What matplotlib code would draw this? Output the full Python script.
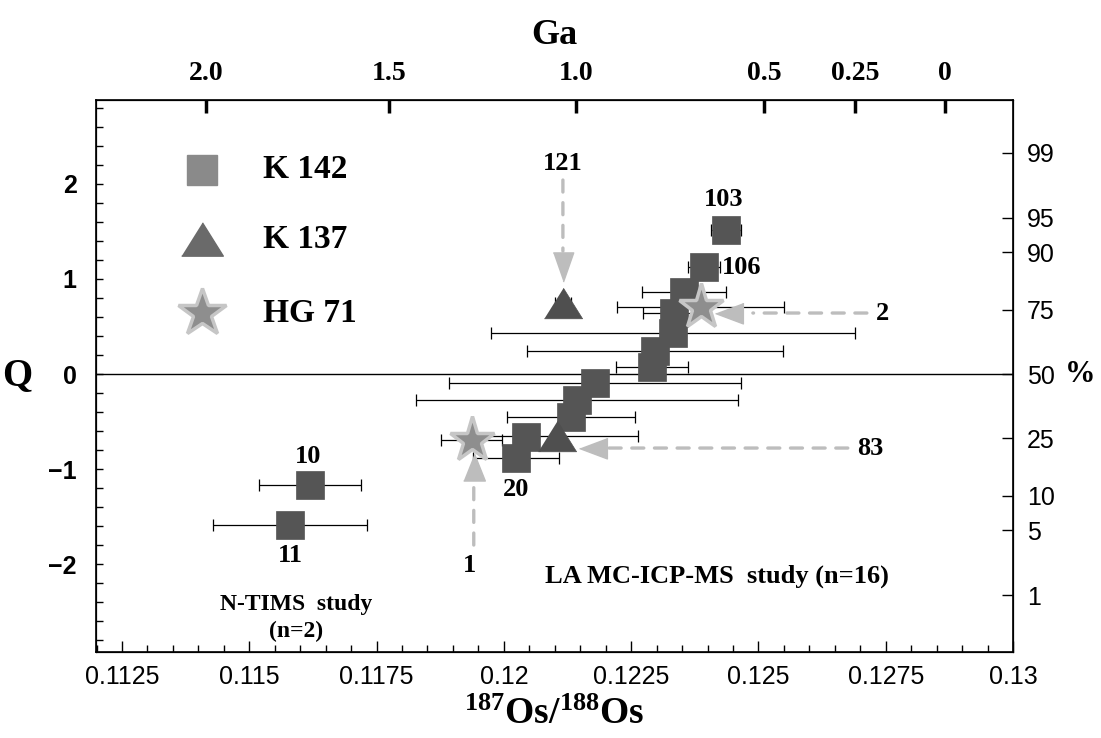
import matplotlib
matplotlib.use("Agg")
import matplotlib.pyplot as plt
import matplotlib.transforms as mtransforms
from statistics import NormalDist
import numpy as np

plt.rcParams["mathtext.fontset"] = "custom"
plt.rcParams["mathtext.rm"] = "Liberation Serif:bold"
plt.rcParams["mathtext.bf"] = "Liberation Serif:bold"
plt.rcParams["mathtext.it"] = "Liberation Serif:bold:italic"

# ---------------- data ----------------
# K 142 (LA MC-ICP-MS), sorted by Q
k142_os = [0.12436, 0.12393, 0.12354, 0.12334, 0.12332, 0.12297, 0.12291,
           0.12179, 0.12144, 0.12132, 0.12043, 0.12024]
k142_q = [1.516, 1.126, 0.863, 0.642, 0.432, 0.242, 0.074,
          -0.095, -0.274, -0.453, -0.663, -0.884]
k142_err = [0.00030, 0.00031, 0.00083, 0.00061, 0.00357, 0.00252, 0.00070,
            0.00287, 0.00316, 0.00125, 0.00025, 0.00084]
k142_lab = ["103", "106", "", "", "", "", "", "", "", "", "", "20"]

# K 137
k137_os = [0.12116, 0.12104]
k137_q = [0.747, -0.653]
k137_err = [0.00015, 0.00159]
k137_lab = ["121", "83"]

# HG 71
hg71_os = [0.12387, 0.11937]
hg71_q = [0.705, -0.695]
hg71_err = [0.00164, 0.00060]
hg71_lab = ["2", "1"]

# N-TIMS (K 142)
ntims_os = [0.11619, 0.11580]
ntims_q = [-1.168, -1.589]
ntims_err = [0.00100, 0.00151]
ntims_lab = ["10", "11"]

# axes
x_ticks = [0.1125, 0.115, 0.1175, 0.12, 0.1225, 0.125, 0.1275, 0.13]
x_ticklabels = ["0.1125", "0.115", "0.1175", "0.12", "0.1225", "0.125", "0.1275", "0.13"]
y_ticks = [-2, -1, 0, 1, 2]
y_ticklabels = ["\u22122", "\u22121", "0", "1", "2"]
ga_pos = [0.11415, 0.11774, 0.12142, 0.12511, 0.12690, 0.12866]
ga_labels = ["2.0", "1.5", "1.0", "0.5", "0.25", "0"]
pct = [99, 95, 90, 75, 50, 25, 10, 5, 1]

SERIF = "Liberation Serif"
SANS = "Liberation Sans"

fig = plt.figure(figsize=(11.01, 7.38), dpi=100)
W, H = 1101, 738
L, R, T, B = 96, 1013, 100, 652
ax = fig.add_axes([L / W, 1 - B / H, (R - L) / W, (B - T) / H])
ax.set_xlim(0.11199, 0.13)
ax.set_ylim(-2.926, 2.884)

ax.axhline(0, color="black", lw=1.0, zorder=1)

ebkw = dict(fmt="none", ecolor="black", elinewidth=0.9, capsize=4, capthick=0.9, zorder=2)
ax.errorbar(k142_os, k142_q, xerr=k142_err, **ebkw)
ax.errorbar(k137_os, k137_q, xerr=k137_err, **ebkw)
ax.errorbar(hg71_os, hg71_q, xerr=hg71_err, **ebkw)
ax.errorbar(ntims_os, ntims_q, xerr=ntims_err, **ebkw)

SQ = "#555555"
TRI = "#4f4f4f"
STAR_F = "#8e8e8e"
STAR_E = "#c6c6c6"
ARROW = "#bdbdbd"

tri_marker = [(-1, -0.8), (1, -0.8), (0, 0.8)]
ax.plot(k142_os, k142_q, ls="none", marker="s", ms=20, mfc=SQ, mec=SQ, mew=0.5, zorder=3)
ax.plot(ntims_os, ntims_q, ls="none", marker="s", ms=20, mfc=SQ, mec=SQ, mew=0.5, zorder=3)
ax.plot(k137_os, k137_q, ls="none", marker=tri_marker, ms=27.5, mfc=TRI, mec=TRI, mew=0.5, zorder=4)
ax.plot(hg71_os, hg71_q, ls="none", marker="*", ms=34, mfc=STAR_F, mec=STAR_E, mew=2.5, zorder=5)

lab_font = dict(family=SERIF, weight="bold", size=19)


def offset(dx, dy):
    return mtransforms.offset_copy(ax.transData, fig=fig, x=dx, y=dy, units="dots")


def label_at(txt, x0, y0, dx, dy, ha="center"):
    ax.annotate(txt, xy=(x0, y0), xytext=(dx, dy), textcoords="offset pixels",
                ha=ha, va="center", zorder=6, **lab_font)


# point labels
label_at(k142_lab[0], k142_os[0], k142_q[0], -2, 30)
label_at(k142_lab[1], k142_os[1], k142_q[1], 18, 0, ha="left")
label_at(k142_lab[11], k142_os[11], k142_q[11], 0, -32)
label_at(ntims_lab[0], ntims_os[0], ntims_q[0], -2, 28)
label_at(ntims_lab[1], ntims_os[1], ntims_q[1], 0, -31)

dash = (0, (3.6, 3.2))


def callout(txt, x0, y0, marker, tip, ms, line_from, line_to, text_off):
    """arrowhead at pixel offset `tip` from the point, dashed line and label"""
    ax.plot([x0], [y0], ls="none", marker=marker, ms=ms, mfc=ARROW, mec=ARROW,
            transform=offset(*tip), zorder=6, clip_on=False)
    ax.annotate("", xy=(x0, y0), xycoords=offset(*line_to),
                xytext=(x0, y0), textcoords=offset(*line_from),
                arrowprops=dict(arrowstyle="-", color=ARROW, lw=2.4, ls=dash,
                                shrinkA=0, shrinkB=0), zorder=6)
    label_at(txt, x0, y0, *text_off)


down_m = [(-0.7, 1), (0.7, 1), (0, -1)]
left_m = [(1, 0.75), (1, -0.75), (-1, 0)]
up_m = [(-0.8, -1), (0.8, -1), (0, 1)]

# 121 (upper K137 triangle), arrow from above
callout(k137_lab[0], k137_os[0], k137_q[0], down_m, (0, 36), 21, (0, 123), (0, 52), (0, 140))
# 2 (upper HG71 star), arrow from right
callout(hg71_lab[0], hg71_os[0], hg71_q[0], left_m, (28, -6), 20, (166, -6), (52, -6), (182, -6))
# 83 (lower K137 triangle), arrow from right
callout(k137_lab[1], k137_os[1], k137_q[1], left_m, (36, -12), 20, (291, -12), (51, -12), (313, -12))
# 1 (lower HG71 star), arrow from below
callout(hg71_lab[1], hg71_os[1], hg71_q[1], up_m, (2, -27), 19.5, (2, -105), (2, -42), (-2, -125))

# legend (manual)
lx, tx = (202 - L) / (R - L), (263 - L) / (R - L)
ly = [(B - 170) / (B - T), (B - 239) / (B - T), (B - 313) / (B - T)]
ax.plot([lx], [ly[0]], transform=ax.transAxes, marker="s", ms=22, mfc="#8a8a8a", mec="#8a8a8a", ls="none")
ax.plot([lx], [ly[1]], transform=ax.transAxes, marker=tri_marker, ms=30, mfc="#6a6a6a", mec="#6a6a6a", ls="none")
ax.plot([lx], [ly[2]], transform=ax.transAxes, marker="*", ms=36, mfc=STAR_F, mec=STAR_E, mew=2.5, ls="none")
for yy, t in zip(ly, ["K 142", "K 137", "HG 71"]):
    ax.text(tx, yy, t, transform=ax.transAxes, ha="left", va="center",
            family=SERIF, weight="bold", size=24)

ax.text((717 - L) / (R - L), (B - 576) / (B - T), "LA MC-ICP-MS  study (n=16)",
        transform=ax.transAxes, ha="center", va="center", family=SERIF, weight="bold", size=19)
ax.text((296 - L) / (R - L), (B - 618) / (B - T), "N-TIMS  study\n(n=2)",
        transform=ax.transAxes, ha="center", va="center", family=SERIF, weight="bold",
        size=17, linespacing=1.4)

# ticks bottom / left
ax.set_xticks(x_ticks)
ax.set_xticklabels(x_ticklabels, family=SANS, size=18)
ax.set_xticks(np.arange(0.112, 0.13001, 0.0005), minor=True)
ax.set_yticks(y_ticks)
ax.set_yticklabels(y_ticklabels, family=SANS, weight="bold", size=18)
ax.set_yticks(np.arange(-2.8, 2.81, 0.2), minor=True)
ax.tick_params(axis="both", which="both", direction="in", top=False, right=False)
ax.tick_params(axis="x", which="major", length=8, width=1, pad=9)
ax.tick_params(axis="x", which="minor", length=5, width=1)
ax.tick_params(axis="y", which="major", length=5, width=1, pad=14)
ax.tick_params(axis="y", which="minor", length=5, width=1)
for s in ax.spines.values():
    s.set_linewidth(1.2)

ax.set_xlabel(r"$^{187}$Os/$^{188}$Os", family=SERIF, weight="bold", size=27, labelpad=6)
ax.set_ylabel("Q", family=SERIF, weight="bold", size=28, rotation=0, labelpad=22, va="center")

# right probability axis
ax2 = ax.twinx()
ax2.set_ylim(ax.get_ylim())
nd = NormalDist()
ax2.set_yticks([nd.inv_cdf(p / 100) for p in pct])
ax2.set_yticklabels([str(p) for p in pct], family=SANS, size=18)
ax2.tick_params(axis="y", direction="in", length=8, width=1, pad=10)
ax2.text(1.057, nd.inv_cdf(0.5), "%",
         transform=mtransforms.blended_transform_factory(ax2.transAxes, ax2.transData),
         ha="left", va="center", family=SERIF, weight="bold", size=22)

# top Ga axis
ax3 = ax.twiny()
ax3.set_xlim(ax.get_xlim())
ax3.set_xticks(ga_pos)
ax3.set_xticklabels(ga_labels, family=SERIF, weight="bold", size=20)
ax3.tick_params(axis="x", direction="in", length=9, width=2.5, pad=10)
ax3.set_xlabel("Ga", family=SERIF, weight="bold", size=26, labelpad=12)

fig.savefig("out.png", dpi=100)
